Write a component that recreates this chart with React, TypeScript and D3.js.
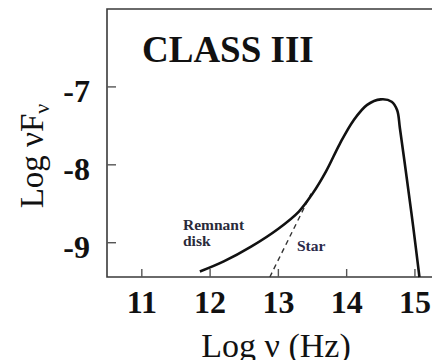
import React from "react";
import * as d3 from "d3";

// Spectral energy distribution of a Class III young stellar object
const sedLogNu = [11.85, 12.2, 12.6, 13.0, 13.3, 13.5, 13.7, 13.9, 14.1, 14.3, 14.5, 14.66, 14.74, 14.78, 14.878, 14.975, 15.066];
const sedLogFlux = [-9.37, -9.24, -9.05, -8.82, -8.6, -8.37, -8.08, -7.73, -7.43, -7.23, -7.16, -7.19, -7.3, -7.53, -8.156, -8.797, -9.44];

// Stellar photosphere contribution (dashed)
const starLogNu = [12.875, 13.2, 13.48];
const starLogFlux = [-9.44, -8.865, -8.37];

const xTicks = [11, 12, 13, 14, 15];
const yTicks = [-7, -8, -9];

const W = 432;
const H = 360;
const serif = "'Liberation Serif', 'Times New Roman', Times, serif";

export default function App() {
  const x = d3.scaleLinear().domain([10.49, 15.25]).range([107, 432]);
  const y = d3.scaleLinear().domain([-9.44, -6.0]).range([277, 9]);

  const line = d3
    .line<[number, number]>()
    .x((d) => x(d[0]))
    .y((d) => y(d[1]))
    .curve(d3.curveCatmullRom.alpha(0.5));

  const sed = line(sedLogNu.map((v, i) => [v, sedLogFlux[i]] as [number, number])) || "";
  const star = line(starLogNu.map((v, i) => [v, starLogFlux[i]] as [number, number])) || "";

  const [x0, x1] = x.range();
  const [yb, yt] = y.range();

  return (
    <svg
      width={W}
      height={H}
      style={{ position: "absolute", left: 0, top: 0, background: "#fff" }}
      fontFamily={serif}
    >
      <rect width={W} height={H} fill="#fff" />
      {/* frame */}
      <path
        d={`M${x1 + 2},${yt}H${x0}V${yb}H${x1 + 2}`}
        fill="none"
        stroke="#3a3a3a"
        strokeWidth={1.6}
      />
      {/* y ticks */}
      {yTicks.map((t) => (
        <g key={"y" + t}>
          <line x1={x0} x2={x0 + 9} y1={y(t)} y2={y(t)} stroke="#555" strokeWidth={1.4} />
          <text x={90} y={y(t) + 15} textAnchor="end" fontSize={32} fontWeight="bold" fill="#111">
            {String(t)}
          </text>
        </g>
      ))}
      {/* x ticks */}
      {xTicks.map((t) => (
        <g key={"x" + t}>
          <line x1={x(t)} x2={x(t)} y1={yb} y2={yb - 8} stroke="#555" strokeWidth={1.4} />
          <text x={x(t)} y={313} textAnchor="middle" fontSize={32} fontWeight="bold" fill="#111">
            {String(t)}
          </text>
        </g>
      ))}
      {/* curves */}
      <path d={star} fill="none" stroke="#333" strokeWidth={1.4} strokeDasharray="5,4" />
      <path d={sed} fill="none" stroke="#111" strokeWidth={2.6} strokeLinejoin="round" />

      {/* annotations */}
      <text x={142} y={62} fontSize={37} fontWeight="bold" fill="#111">
        CLASS III
      </text>
      <text fontSize={15.5} fontWeight="bold" fill="#2a2a3a">
        <tspan x={183} y={230}>Remnant</tspan>
        <tspan x={183} y={246}>disk</tspan>
      </text>
      <text x={297} y={251} fontSize={15.5} fontWeight="bold" fill="#2a2a4a">
        Star
      </text>

      {/* axis titles */}
      <text x={276} y={357} textAnchor="middle" fontSize={34} fill="#111">
        Log ν (Hz)
      </text>
      <text
        transform={`translate(43,156) rotate(-90)`}
        textAnchor="middle"
        fontSize={33}
        fill="#111"
      >
        Log νF
        <tspan fontSize={22} dy={6}>ν</tspan>
      </text>
    </svg>
  );
}
